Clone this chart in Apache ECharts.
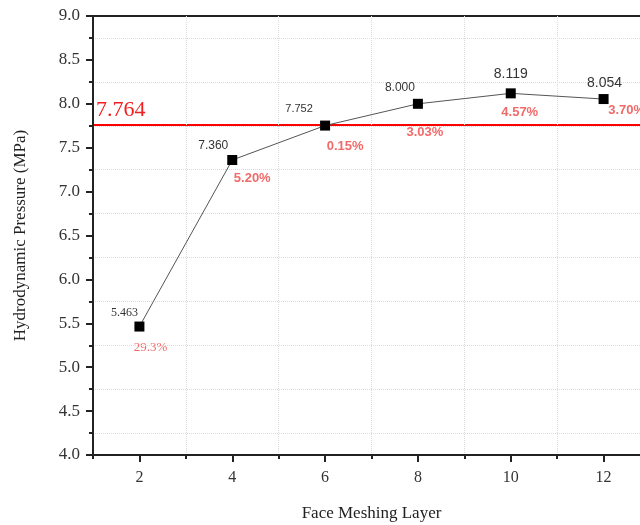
<!DOCTYPE html>
<html>
<head>
<meta charset="utf-8">
<script src="https://cdn.jsdelivr.net/npm/echarts@6/dist/echarts.min.js"></script>
<style>
  html, body { margin: 0; padding: 0; background: #fff; }
  #chart { width: 640px; height: 525px; }
</style>
</head>
<body>
<div id="chart"></div>
<script>
// x axis tick labels (1..13, only even ones are shown)
let layers = ['1', '2', '3', '4', '5', '6', '7', '8', '9', '10', '11', '12', '13'];
let meshLayer = ['2', '4', '6', '8', '10', '12'];
let pressure = [5.463, 7.360, 7.752, 8.000, 8.119, 8.054];
let errorText = ['29.3%', '5.20%', '0.15%', '3.03%', '4.57%', '3.70%'];
let refValue = 7.764;

// label placement, per point
let valueOffset = [[-15, -14], [-19, -14], [-26, -17], [-18, -16], [0, -19], [1, -16]];
let valueSize = [12, 12, 11, 12, 14, 14];
let errOffset = [[11, 21], [20, 18], [20, 21], [7, 29], [9, 19], [23, 11]];

let serif = '"Liberation Serif", "Times New Roman", serif';
let sans = '"Liberation Sans", Arial, sans-serif';

let myChart = echarts.init(document.getElementById('chart'), null, {renderer: 'canvas'});

let valueData = [];
let errData = [];
for (let i = 0; i < meshLayer.length; i++) {
  valueData.push({
    value: [meshLayer[i], pressure[i]],
    label: {offset: valueOffset[i], fontSize: valueSize[i], fontFamily: i === 0 ? serif : sans}
  });
  errData.push({
    value: [meshLayer[i], pressure[i]],
    label: {
      offset: errOffset[i],
      formatter: errorText[i],
      fontFamily: i === 0 ? serif : sans,
      fontWeight: i === 0 ? 'normal' : 'bold'
    }
  });
}

let option = {
  backgroundColor: '#fff',
  animation: false,
  grid: {left: 93, top: 16, bottom: 70, right: -10, containLabel: false, outerBoundsMode: 'none'},
  xAxis: [
    {
      type: 'category',
      data: layers,
      boundaryGap: false,
      name: 'Face Meshing Layer',
      nameLocation: 'middle',
      nameGap: 50,
      nameTextStyle: {fontFamily: serif, fontSize: 17, color: '#222'},
      axisLine: {lineStyle: {color: '#222', width: 2}},
      axisTick: {
        show: true,
        inside: false,
        length: 7,
        interval: function (i) { return i % 2 === 1; },
        lineStyle: {color: '#222', width: 2}
      },
      axisLabel: {
        interval: function (i) { return i % 2 === 1; },
        margin: 15,
        fontFamily: serif,
        fontSize: 16,
        color: '#333'
      },
      splitLine: {
        show: true,
        interval: function (i) { return i % 2 === 0 && i > 0; },
        lineStyle: {color: '#dadada', type: 'dotted', width: 1}
      },
      z: 5
    },
    {
      // minor ticks on the odd layers
      type: 'category',
      data: layers,
      boundaryGap: false,
      position: 'bottom',
      axisLine: {show: false},
      axisTick: {
        show: true,
        length: 4,
        interval: function (i) { return i % 2 === 0; },
        lineStyle: {color: '#222', width: 2}
      },
      axisLabel: {show: false},
      splitLine: {show: false}
    },
    {
      // top frame
      type: 'category',
      data: layers,
      boundaryGap: false,
      position: 'top',
      axisLine: {lineStyle: {color: '#222', width: 2}},
      axisTick: {show: false},
      axisLabel: {show: false},
      splitLine: {show: false}
    }
  ],
  yAxis: {
    type: 'value',
    min: 4,
    max: 9,
    interval: 0.5,
    name: 'Hydrodynamic Pressure (MPa)',
    nameLocation: 'middle',
    nameGap: 64,
    nameTextStyle: {fontFamily: serif, fontSize: 17, color: '#222'},
    axisLine: {show: true, lineStyle: {color: '#222', width: 2}},
    axisTick: {show: true, length: 7, lineStyle: {color: '#222', width: 2}},
    minorTick: {show: true, splitNumber: 2, length: 4, lineStyle: {color: '#222', width: 2}},
    axisLabel: {
      margin: 13,
      fontFamily: serif,
      fontSize: 17,
      color: '#333',
      formatter: function (v) { return v.toFixed(1); }
    },
    splitLine: {show: false},
    minorSplitLine: {show: true, lineStyle: {color: '#dadada', type: 'dotted', width: 1}},
    z: 5
  },
  series: [
    {
      name: 'pressure',
      type: 'line',
      data: valueData,
      symbol: 'rect',
      symbolSize: 10,
      itemStyle: {color: '#000'},
      lineStyle: {color: '#555', width: 1},
      label: {
        show: true,
        position: 'inside',
        align: 'center',
        verticalAlign: 'middle',
        color: '#333',
        formatter: function (p) { return p.value[1].toFixed(3); }
      },
      z: 6
    },
    {
      name: 'error',
      type: 'scatter',
      data: errData,
      symbolSize: 0,
      itemStyle: {color: 'rgba(0,0,0,0)'},
      label: {
        show: true,
        position: 'inside',
        align: 'center',
        verticalAlign: 'middle',
        color: '#ef4444',
        fontSize: 13
      },
      // reference value line, drawn under the markers
      markLine: {
        silent: true,
        z: 2,
        symbol: ['none', 'arrow'],
        symbolSize: 9,
        lineStyle: {color: '#ff0000', width: 2, type: 'solid'},
        label: {
          show: true,
          position: 'insideStartTop',
          distance: [3, 4],
          formatter: String(refValue),
          color: '#f02020',
          fontFamily: serif,
          fontSize: 22
        },
        data: [{yAxis: refValue}]
      },
      z: 3
    }
  ]
};
myChart.setOption(option);
</script>
</body>
</html>
